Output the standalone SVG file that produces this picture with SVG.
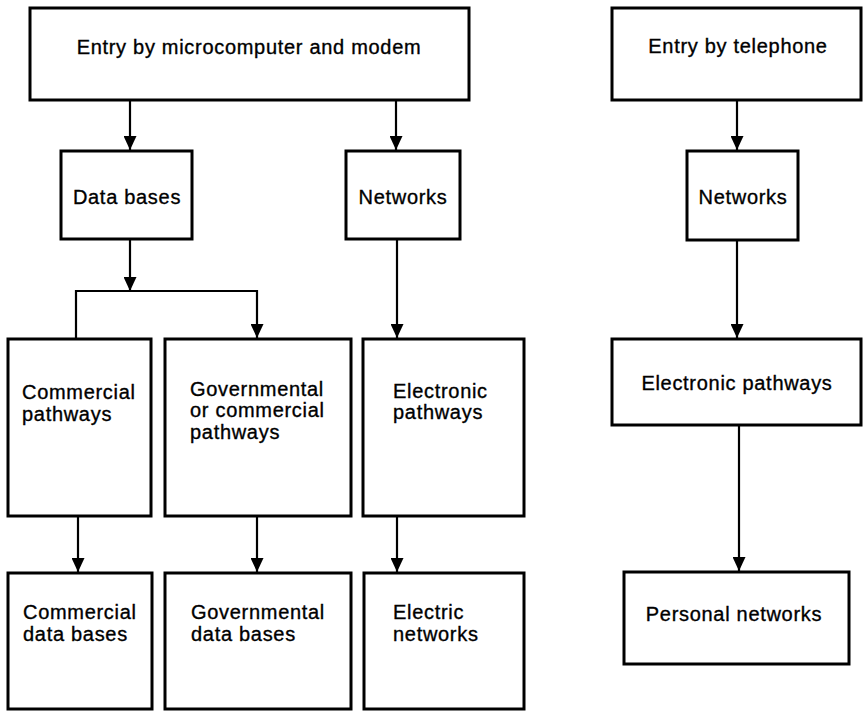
<svg xmlns="http://www.w3.org/2000/svg" width="863" height="712" viewBox="0 0 863 712">
  <defs>
    <marker id="arrow" markerUnits="userSpaceOnUse" markerWidth="14" markerHeight="13" refX="14" refY="6.5" orient="auto">
      <path d="M0,0 L14,6.5 L0,13 z" fill="#000"/>
    </marker>
    <style>
      .box { fill: #fff; stroke: #000; stroke-width: 3; }
      .lbl { font-family: "Liberation Sans", Arial, Helvetica, sans-serif; font-size: 20px; letter-spacing: 0.7px; fill: #000; stroke: #000; stroke-width: 0.35; }
      .mid { text-anchor: middle; }
      .conn { fill: none; stroke: #000; stroke-width: 2.2; }
    </style>
  </defs>
  <rect width="863" height="712" fill="#fff"/>

  <g id="connectors">
    <path class="conn" d="M130,101 L130,150" marker-end="url(#arrow)"/>
    <path class="conn" d="M396,101 L396,150" marker-end="url(#arrow)"/>
    <path class="conn" d="M737,100 L737,150" marker-end="url(#arrow)"/>
    <path class="conn" d="M130,239 L130,291" marker-end="url(#arrow)"/>
    <path class="conn" d="M76,339 L76,291 L257,291 L257,338" marker-end="url(#arrow)"/>
    <path class="conn" d="M397,239 L397,338" marker-end="url(#arrow)"/>
    <path class="conn" d="M737,240 L737,338" marker-end="url(#arrow)"/>
    <path class="conn" d="M78,516 L78,572" marker-end="url(#arrow)"/>
    <path class="conn" d="M257,516 L257,572" marker-end="url(#arrow)"/>
    <path class="conn" d="M397,516 L397,572" marker-end="url(#arrow)"/>
    <path class="conn" d="M739,425 L739,571" marker-end="url(#arrow)"/>
  </g>

  <g id="entry-micro">
    <rect class="box" x="30" y="8" width="439" height="92"/>
    <text class="lbl mid" x="249" y="54">Entry by microcomputer and modem</text>
  </g>
  <g id="entry-phone">
    <rect class="box" x="612" y="8" width="249" height="92"/>
    <text class="lbl mid" x="738" y="53">Entry by telephone</text>
  </g>
  <g id="data-bases">
    <rect class="box" x="61" y="151" width="131" height="88"/>
    <text class="lbl mid" x="127" y="204">Data bases</text>
  </g>
  <g id="networks-1">
    <rect class="box" x="346" y="151" width="114" height="88"/>
    <text class="lbl mid" x="403" y="204">Networks</text>
  </g>
  <g id="networks-2">
    <rect class="box" x="687" y="151" width="111" height="89"/>
    <text class="lbl mid" x="743" y="204">Networks</text>
  </g>
  <g id="commercial-pathways">
    <rect class="box" x="8" y="339" width="143" height="177"/>
    <text class="lbl" x="22" y="399">Commercial</text>
    <text class="lbl" x="22" y="421">pathways</text>
  </g>
  <g id="gov-pathways">
    <rect class="box" x="165" y="339" width="186" height="177"/>
    <text class="lbl" x="190" y="396">Governmental</text>
    <text class="lbl" x="190" y="417">or commercial</text>
    <text class="lbl" x="190" y="439">pathways</text>
  </g>
  <g id="electronic-pathways-1">
    <rect class="box" x="363" y="339" width="161" height="177"/>
    <text class="lbl" x="393" y="398">Electronic</text>
    <text class="lbl" x="393" y="419">pathways</text>
  </g>
  <g id="electronic-pathways-2">
    <rect class="box" x="612" y="339" width="249" height="86"/>
    <text class="lbl mid" x="737" y="390">Electronic pathways</text>
  </g>
  <g id="commercial-db">
    <rect class="box" x="8" y="573" width="144" height="136"/>
    <text class="lbl" x="23" y="619">Commercial</text>
    <text class="lbl" x="23" y="641">data bases</text>
  </g>
  <g id="gov-db">
    <rect class="box" x="165" y="573" width="186" height="136"/>
    <text class="lbl" x="191" y="619">Governmental</text>
    <text class="lbl" x="191" y="641">data bases</text>
  </g>
  <g id="electric-networks">
    <rect class="box" x="364" y="573" width="160" height="136"/>
    <text class="lbl" x="393" y="619">Electric</text>
    <text class="lbl" x="393" y="641">networks</text>
  </g>
  <g id="personal-networks">
    <rect class="box" x="624" y="572" width="225" height="92"/>
    <text class="lbl mid" x="734" y="621">Personal networks</text>
  </g>
</svg>
